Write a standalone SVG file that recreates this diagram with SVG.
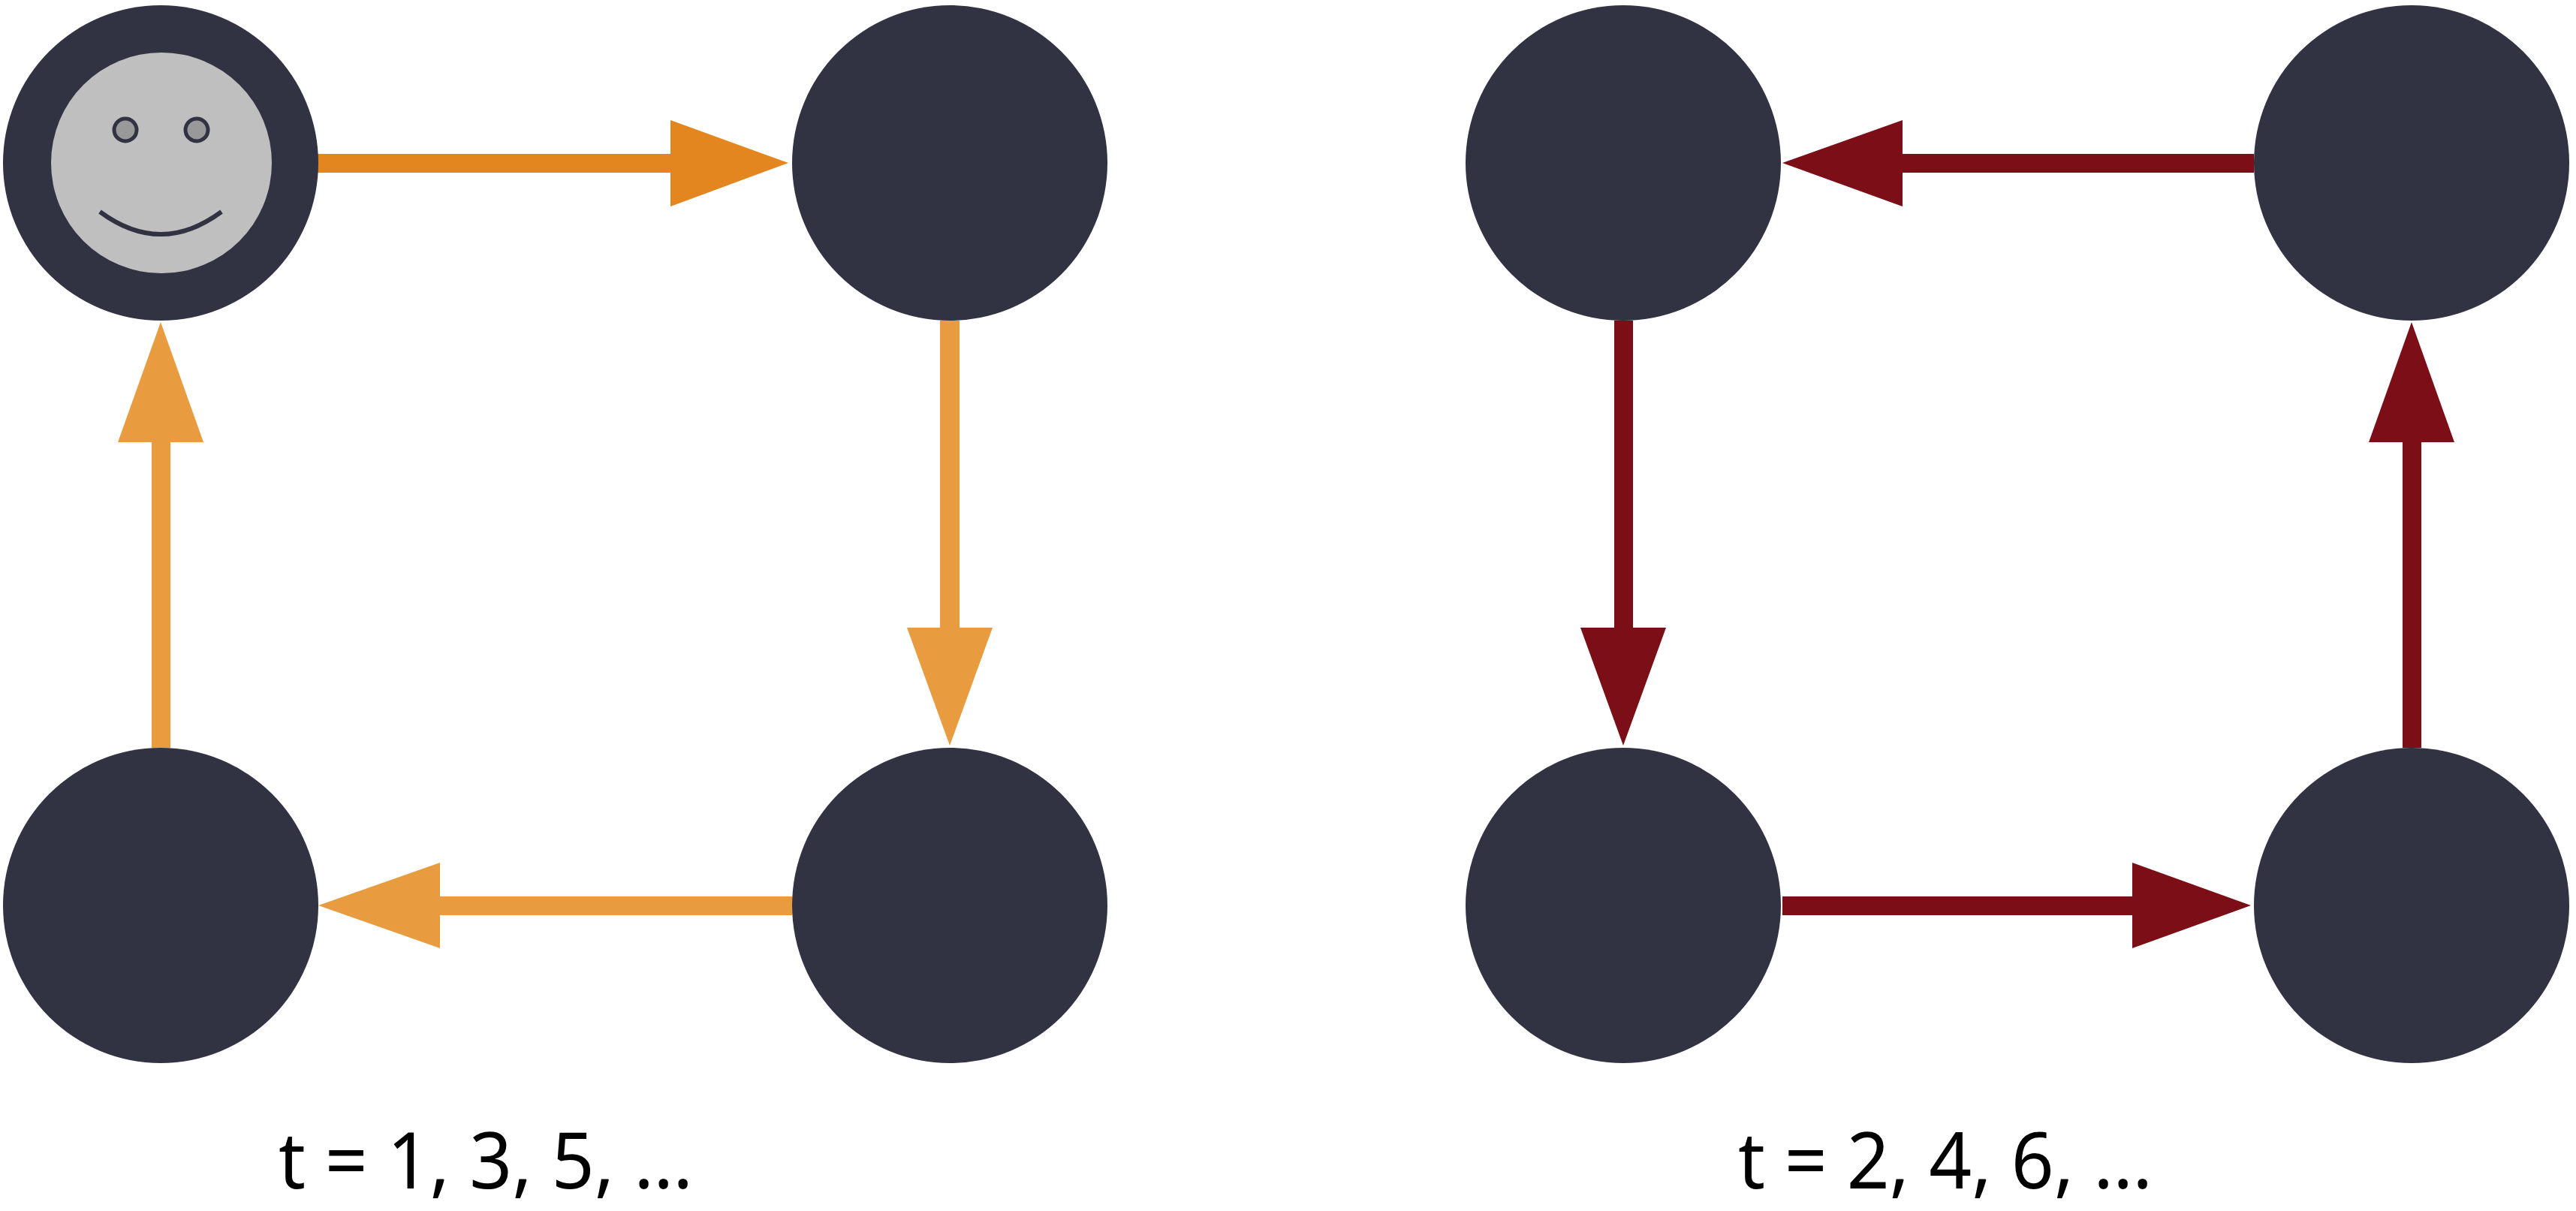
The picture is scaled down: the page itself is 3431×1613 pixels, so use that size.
<svg xmlns="http://www.w3.org/2000/svg" width="3431" height="1613" viewBox="0 0 3431 1613">
<style>
.n{fill:#313343}
.o1{fill:#E3861F}
.o2{fill:#E89B3F}
.r{fill:#7B0E17}
.t{font-family:"Noto Sans","Open Sans",sans-serif;font-size:105px;fill:#000}
</style>
<rect width="3431" height="1613" fill="#fff"/>
<g id="connectors">
<polygon class="o1" points="423,205 893,205 893,160 1050,217 893,275 893,230 423,230"/>
<polygon class="o2" points="1252,427 1278,427 1278,836 1322,836 1265,993 1208,836 1252,836"/>
<polygon class="o2" points="1055,1194 1055,1219 586,1219 586,1263 424,1206 586,1149 586,1194"/>
<polygon class="o2" points="202,996 227,996 227,589 271,589 214,429 157,589 202,589"/>
<polygon class="r" points="3002,205 2534,205 2534,160 2374,217 2534,275 2534,230 3002,230"/>
<polygon class="r" points="2150,427 2175,427 2175,836 2219,836 2162,993 2105,836 2150,836"/>
<polygon class="r" points="2374,1194 2840,1194 2840,1149 2998,1206 2840,1263 2840,1219 2374,1219"/>
<polygon class="r" points="3200,996 3225,996 3225,589 3269,589 3212,429 3155,589 3200,589"/>
</g>
<g id="n1"><circle class="n" cx="214" cy="217" r="210"/>
<circle cx="215" cy="217" r="147" fill="#BFBFBF"/>
<circle cx="167" cy="173" r="15" fill="#999" stroke="#313343" stroke-width="5"/>
<circle cx="262" cy="173" r="15" fill="#999" stroke="#313343" stroke-width="5"/>
<path d="M133,282 Q214,342 295,282" fill="none" stroke="#313343" stroke-width="6"/></g>
<g id="n2"><circle class="n" cx="1265" cy="217" r="210"/></g>
<g id="n3"><circle class="n" cx="214" cy="1206" r="210"/></g>
<g id="n4"><circle class="n" cx="1265" cy="1206" r="210"/></g>
<g id="n5"><circle class="n" cx="2162" cy="217" r="210"/></g>
<g id="n6"><circle class="n" cx="3212" cy="217" r="210"/></g>
<g id="n7"><circle class="n" cx="2162" cy="1206" r="210"/></g>
<g id="n8"><circle class="n" cx="3212" cy="1206" r="210"/></g>
<text class="t" x="371" y="1583" textLength="552" lengthAdjust="spacingAndGlyphs">t = 1, 3, 5, …</text>
<text class="t" x="2315" y="1583" textLength="552" lengthAdjust="spacingAndGlyphs">t = 2, 4, 6, …</text>
</svg>
